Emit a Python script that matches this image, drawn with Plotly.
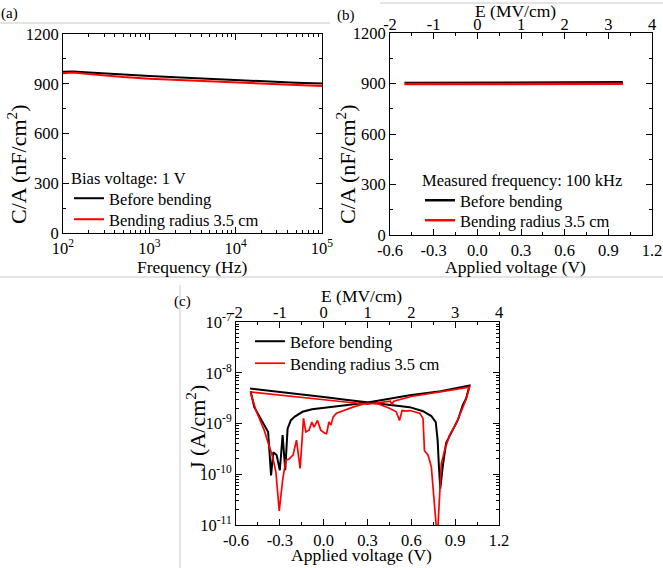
import plotly.graph_objects as go

W, H = 663, 568
FONT = "Liberation Serif"
RED = "#ff0000"

# (a) C/A versus frequency at 1 V bias
freq_hz = [100, 130, 200, 300, 500, 1000, 2000, 5000, 1e4, 2e4, 5e4, 1e5]
ca_freq_before = [972, 974, 968, 962, 955, 946, 939, 929, 921, 914, 906, 901]
ca_freq_bent = [964, 968, 958, 949, 940, 930, 923, 914, 907, 900, 891, 886]

# (b) C/A versus applied voltage at 100 kHz
volt_cv = [-0.5, -0.4, -0.3, -0.2, -0.1, 0.0, 0.1, 0.2, 0.3, 0.4, 0.5, 0.6, 0.7, 0.8, 0.9, 1.0]
ca_volt_before = [903, 903, 903, 903, 903, 903, 903, 903, 903, 904, 904, 904, 905, 905, 906, 907]
ca_volt_bent = [897, 897, 897, 897, 897, 897, 897, 897, 897, 897, 898, 898, 898, 898, 898, 898]

# (c) J-V sweep loops
volt_jv_before = [-0.504, -0.25, 0.015, 0.15, 0.3, 0.45, 0.589, 0.68, 0.737, 0.767, 0.78, 0.789,
                  0.798, 0.816, 0.838, 0.86, 0.884, 0.92, 0.952, 0.975, 0.998,
                  0.8, 0.589, 0.45, 0.3, 0.15, 0.015, -0.08, -0.145, -0.2, -0.225, -0.247,
                  -0.263, -0.281, -0.30, -0.322, -0.345, -0.36, -0.38, -0.44, -0.475, -0.50]
j_before = [4.9e-9, 4.1e-9, 3.3e-9, 2.95e-9, 2.6e-9, 2.35e-9, 2.1e-9, 1.75e-9, 1.4e-9, 1.07e-9, 4.7e-10, 1.4e-10,
            5.2e-11, 1.5e-10, 4.1e-10, 5.5e-10, 7.4e-10, 1.2e-9, 2.3e-9, 3.1e-9, 5.6e-9,
            4.3e-9, 3.6e-9, 3.1e-9, 2.6e-9, 2.3e-9, 2.05e-9, 1.9e-9, 1.7e-9, 1.35e-9, 1.15e-9, 7.9e-10,
            1.2e-10, 5.9e-10, 1.2e-10, 2.4e-10, 2.7e-10, 9.5e-11, 6.8e-10, 1.35e-9, 2.1e-9, 4.3e-9]

volt_jv_bent = [-0.50, -0.48, -0.463, -0.407, -0.372, -0.349, -0.327, -0.304, -0.281, -0.259, -0.236,
                -0.209, -0.186, -0.161, -0.138, -0.122, -0.10, -0.081, -0.066, -0.042, -0.02, 0.005,
                0.02, 0.036, 0.05, 0.065, 0.088, 0.2, 0.291, 0.37, 0.45, 0.497, 0.519, 0.537, 0.565,
                0.589, 0.657, 0.68, 0.69, 0.714, 0.737, 0.76, 0.771, 0.782, 0.794, 0.805, 0.828,
                0.862, 0.907, 0.941, 0.975, 0.998,
                0.8, 0.6, 0.48, 0.467, 0.455, 0.3, 0.15, 0.015, -0.25, -0.504]
j_bent = [4.0e-9, 2.6e-9, 1.8e-9, 7.4e-10, 3.5e-10, 2.2e-10, 1.1e-10, 1.9e-11, 7.6e-11, 1.9e-10, 2.0e-10,
          2.4e-10, 4.7e-10, 1.3e-10, 1.26e-9, 6.8e-10, 7.4e-10, 1.07e-9, 8.5e-10, 1.15e-9, 7.4e-10, 6.5e-10,
          6.3e-10, 1.07e-9, 9.3e-10, 1.35e-9, 1.6e-9, 2.1e-9, 2.5e-9, 2.45e-9, 2.0e-9, 1.7e-9, 1.15e-9, 1.8e-9, 1.75e-9,
          1.8e-9, 1.6e-9, 1.26e-9, 2.9e-10, 2.4e-10, 1.4e-10, 2.7e-11, 9e-12, 9e-12, 4.9e-11, 1.6e-10, 3.0e-10,
          5.9e-10, 1.0e-9, 1.8e-9, 3.0e-9, 5.2e-9,
          4.2e-9, 3.4e-9, 2.75e-9, 2.4e-9, 2.75e-9, 2.4e-9, 2.65e-9, 2.9e-9, 3.5e-9, 4.2e-9]

ca_ticks = [0, 300, 600, 900, 1200]
freq_ticks = [1e2, 1e3, 1e4, 1e5]
freq_labels = ["10<sup>2</sup>", "10<sup>3</sup>", "10<sup>4</sup>", "10<sup>5</sup>"]
volt_ticks = [-0.6, -0.3, 0.0, 0.3, 0.6, 0.9, 1.2]
volt_labels = ["-0.6", "-0.3", "0.0", "0.3", "0.6", "0.9", "1.2"]
field_range = [-2, 4]
field_ticks = [-2, -1, 0, 1, 2, 3, 4]
field_labels = ["-2", "-1", "0", "1", "2", "3", "4"]
j_ticks = [1e-11, 1e-10, 1e-9, 1e-8, 1e-7]
j_labels = ["10<sup>-11</sup>", "10<sup>-10</sup>", "10<sup>-9</sup>", "10<sup>-8</sup>", "10<sup>-7</sup>"]

LEG_BEFORE = "Before bending"
LEG_BENT = "Bending radius 3.5 cm"


def fx(px):
    return px / W


def fy(px):
    return 1 - px / H


fig = go.Figure()

# (a)
fig.add_trace(go.Scatter(x=freq_hz, y=ca_freq_before, mode="lines", name=LEG_BEFORE,
                         line=dict(color="black", width=2), xaxis="x", yaxis="y", legend="legend"))
fig.add_trace(go.Scatter(x=freq_hz, y=ca_freq_bent, mode="lines", name=LEG_BENT,
                         line=dict(color=RED, width=2), xaxis="x", yaxis="y", legend="legend2"))
# (b)
fig.add_trace(go.Scatter(x=volt_cv, y=ca_volt_before, mode="lines", name=LEG_BEFORE,
                         line=dict(color="black", width=2.5), xaxis="x2", yaxis="y2", legend="legend3"))
fig.add_trace(go.Scatter(x=volt_cv, y=ca_volt_bent, mode="lines", name=LEG_BENT,
                         line=dict(color=RED, width=2.5), xaxis="x2", yaxis="y2", legend="legend4"))
# (c)
fig.add_trace(go.Scatter(x=volt_jv_before, y=j_before, mode="lines", name=LEG_BEFORE,
                         line=dict(color="black", width=2), xaxis="x3", yaxis="y3", legend="legend5"))
fig.add_trace(go.Scatter(x=volt_jv_bent, y=j_bent, mode="lines", name=LEG_BENT,
                         line=dict(color=RED, width=1.7), xaxis="x3", yaxis="y3", legend="legend6"))

# empty traces that bring the top electric-field axes into existence
for xa, ya in [("x4", "y2"), ("x5", "y3")]:
    fig.add_trace(go.Scatter(x=field_range, y=[None, None], mode="lines", xaxis=xa, yaxis=ya,
                             showlegend=False, hoverinfo="skip"))

tickfont = dict(family=FONT, size=16.5, color="black")
minor = dict(ticks="inside", ticklen=3, tickcolor="black", tickwidth=1)
common = dict(showline=True, linecolor="black", linewidth=1, ticks="inside", ticklen=6,
              tickcolor="black", tickwidth=1, showgrid=False, zeroline=False, tickfont=tickfont,
              automargin=False)

fig.update_layout(
    width=W, height=H, margin=dict(l=0, r=0, t=0, b=0, autoexpand=False),
    paper_bgcolor="white", plot_bgcolor="white", font=dict(family=FONT, size=16.5, color="black"),
    showlegend=True,
    xaxis=dict(domain=[fx(63), fx(322)], anchor="y", type="log", range=[2, 5], mirror="ticks",
               tickvals=freq_ticks, ticktext=freq_labels, minor=dict(dtick="D1", **minor), **common),
    yaxis=dict(domain=[fy(233), fy(34)], anchor="x", range=[0, 1200], mirror="ticks",
               tickvals=ca_ticks, minor=dict(dtick=150, **minor), **common),
    xaxis2=dict(domain=[fx(390), fx(652)], anchor="y2", range=[-0.6, 1.2], mirror="ticks",
                tickvals=volt_ticks, ticktext=volt_labels, minor=dict(dtick=0.15, **minor), **common),
    yaxis2=dict(domain=[fy(235), fy(33)], anchor="x2", range=[0, 1200], mirror="ticks",
                tickvals=ca_ticks, minor=dict(dtick=150, **minor), **common),
    xaxis4=dict(overlaying="x2", anchor="y2", side="top", range=field_range, ticklabelstandoff=-5,
                tickvals=field_ticks, ticktext=field_labels, minor=dict(dtick=0.5, **minor), **common),
    xaxis3=dict(domain=[fx(236), fx(499)], anchor="y3", range=[-0.6, 1.2], mirror="ticks",
                tickvals=volt_ticks, ticktext=volt_labels, minor=dict(dtick=0.15, **minor), **common),
    yaxis3=dict(domain=[fy(525), fy(322)], anchor="x3", type="log", range=[-11, -7], mirror="ticks",
                tickvals=j_ticks, ticktext=j_labels, minor=dict(dtick="D1", **minor), **common),
    xaxis5=dict(overlaying="x3", anchor="y3", side="top", range=field_range, ticklabelstandoff=-4,
                tickvals=field_ticks, ticktext=field_labels, minor=dict(dtick=0.5, **minor), **common),
)

# one legend per entry so each row sits where it belongs
legend_pos = {"legend": (69, 181), "legend2": (69, 202),
              "legend3": (420, 183), "legend4": (420, 203),
              "legend5": (250, 324), "legend6": (250, 346)}
for key, (lx, ly) in legend_pos.items():
    fig.update_layout({key: dict(x=fx(lx), y=fy(ly), xanchor="left", yanchor="top",
                                 bgcolor="rgba(0,0,0,0)", borderwidth=0, itemwidth=30,
                                 font=dict(family=FONT, size=16.5, color="black"))})

# axis titles, legend headings and panel tags
texts = [
    ("Frequency (Hz)", 192, 267, 0, 17.5, "center"),
    ("C/A (nF/cm<sup>2</sup>)", 17, 164, -90, 22, "center"),
    ("Applied voltage (V)", 515, 267, 0, 17.5, "center"),
    ("C/A (nF/cm<sup>2</sup>)", 346, 164, -90, 22, "center"),
    ("E (MV/cm)", 515, 11, 0, 17.5, "center"),
    ("Applied voltage (V)", 362, 555, 0, 17.5, "center"),
    ("E (MV/cm)", 362, 296, 0, 17.5, "center"),
    ("J (A/cm<sup>2</sup>)", 196, 428, -90, 22, "center"),
    ("Bias voltage: 1 V", 69, 178, 0, 16.5, "left"),
    ("Measured frequency: 100 kHz", 420, 180, 0, 16.5, "left"),
    ("(a)", 9, 13, 0, 15, "center"),
    ("(b)", 346, 15, 0, 15, "center"),
    ("(c)", 182, 301, 0, 15, "center"),
]
for txt, x, y, ang, size, anchor in texts:
    fig.add_annotation(text=txt, x=fx(x), y=fy(y), xref="paper", yref="paper",
                       xanchor=anchor, yanchor="middle", textangle=ang, showarrow=False,
                       font=dict(family=FONT, size=size, color="black"))

# thin page borders between the panels
for x0, y0, x1, y1 in [(0, 23, 330, 23), (0, 277, 663, 277), (180, 285, 180, 568), (380, 3, 663, 3)]:
    fig.add_shape(type="line", xref="paper", yref="paper", x0=fx(x0), x1=fx(x1),
                  y0=fy(y0), y1=fy(y1), line=dict(color="#c8c8c8", width=1))

fig.write_html("out.html")
